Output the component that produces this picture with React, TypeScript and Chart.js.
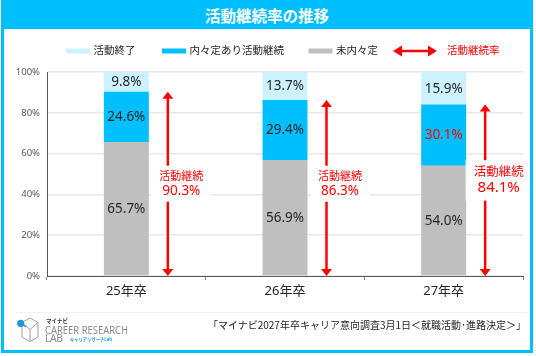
import React, { useEffect, useRef } from "react";
import { Chart, registerables } from "chart.js";

Chart.register(...registerables);

const categories = ["25年卒", "26年卒", "27年卒"];
const notYetOffer = [65.7, 56.9, 54.0];
const offerContinuing = [24.6, 29.4, 30.1];
const activityEnded = [9.8, 13.7, 15.9];
const continuationRate = [90.3, 86.3, 84.1];
const yTickStep = 20;

const seriesNames = ["未内々定", "内々定あり活動継続", "活動終了"];
const rateLabel = "活動継続";
const rateLegend = "活動継続率";
const title = "活動継続率の推移";
const sourceText = "「マイナビ2027年卒キャリア意向調査3月1日＜就職活動･進路決定＞」";

const C_LIGHT = "#CCF2FF";
const C_BLUE = "#00BFFF";
const C_GREY = "#BFBFBF";
const C_RED = "#FF0000";
const FONT = "'Noto Sans', 'Noto Sans CJK JP', sans-serif";

const TOP = 30; // canvas page offset

const legendPlugin = {
  id: "customLegend",
  afterDraw(chart: any) {
    const ctx = chart.ctx;
    const y = 51 - TOP;
    ctx.save();
    ctx.font = `10.5px ${FONT}`;
    ctx.textBaseline = "middle";
    ctx.textAlign = "left";
    const items = [
      { x: 66, color: C_LIGHT, text: seriesNames[2] },
      { x: 162, color: C_BLUE, text: seriesNames[1] },
      { x: 308.5, color: C_GREY, text: seriesNames[0] },
    ];
    for (const it of items) {
      ctx.fillStyle = it.color;
      ctx.fillRect(it.x, y - 2.5, 24, 5);
      ctx.fillStyle = "#262626";
      ctx.fillText(it.text, it.x + 27.5, y + 0.5);
    }
    const ax0 = 393, ax1 = 437;
    ctx.strokeStyle = C_RED;
    ctx.fillStyle = C_RED;
    ctx.lineWidth = 2.5;
    ctx.beginPath();
    ctx.moveTo(ax0 + 8, y);
    ctx.lineTo(ax1 - 8, y);
    ctx.stroke();
    ctx.beginPath();
    ctx.moveTo(ax0, y);
    ctx.lineTo(ax0 + 9, y - 5.5);
    ctx.lineTo(ax0 + 9, y + 5.5);
    ctx.closePath();
    ctx.fill();
    ctx.beginPath();
    ctx.moveTo(ax1, y);
    ctx.lineTo(ax1 - 9, y - 5.5);
    ctx.lineTo(ax1 - 9, y + 5.5);
    ctx.closePath();
    ctx.fill();
    ctx.fillText(rateLegend, 447, y + 0.5);
    ctx.restore();
  },
};

const barLabelPlugin = {
  id: "barLabels",
  afterDatasetsDraw(chart: any) {
    const ctx = chart.ctx;
    ctx.save();
    ctx.font = `13.5px ${FONT}`;
    ctx.textAlign = "center";
    ctx.textBaseline = "middle";
    chart.data.datasets.forEach((ds: any, di: number) => {
      const meta = chart.getDatasetMeta(di);
      meta.data.forEach((el: any, i: number) => {
        const v = ds.data[i];
        const cy = (el.y + el.base) / 2;
        ctx.fillStyle = di === 1 && i === 2 ? C_RED : "#262626";
        ctx.fillText(v.toFixed(1) + "%", el.x, cy + 0.5);
      });
    });
    ctx.restore();
  },
};

const arrowPlugin = {
  id: "rateArrows",
  afterDatasetsDraw(chart: any) {
    const ctx = chart.ctx;
    const xs = chart.scales.x;
    const ys = chart.scales.y;
    const half = (xs.getPixelForValue(1) - xs.getPixelForValue(0)) / 2;
    ctx.save();
    continuationRate.forEach((rate, i) => {
      const x = xs.getPixelForValue(i) + half * 0.523;
      const y0 = ys.getPixelForValue(0);
      const y1 = ys.getPixelForValue(rate);
      const hh = 7, hw = 5.5;
      ctx.strokeStyle = C_RED;
      ctx.fillStyle = C_RED;
      ctx.lineWidth = 2.5;
      ctx.beginPath();
      ctx.moveTo(x, y1 + hh - 1);
      ctx.lineTo(x, y0 - hh + 1);
      ctx.stroke();
      ctx.beginPath();
      ctx.moveTo(x, y1);
      ctx.lineTo(x - hw, y1 + hh);
      ctx.lineTo(x + hw, y1 + hh);
      ctx.closePath();
      ctx.fill();
      ctx.beginPath();
      ctx.moveTo(x, y0);
      ctx.lineTo(x - hw, y0 - hh);
      ctx.lineTo(x + hw, y0 - hh);
      ctx.closePath();
      ctx.fill();

      const big = i === continuationRate.length - 1;
      const f1 = big ? 12.5 : 11;
      const f2 = big ? 15 : 13.5;
      const base = ys.getPixelForValue(45);
      const l1 = base + (big ? -11.5 : -7.5);
      const l2 = base + (big ? 3.5 : 6.5);
      const tx = x + 13.5;
      ctx.font = `${f1}px ${FONT}`;
      const w1 = ctx.measureText(rateLabel).width;
      ctx.font = `${f2}px ${FONT}`;
      const rt = rate.toFixed(1) + "%";
      const w2 = ctx.measureText(rt).width;
      const bw = Math.max(w1, w2) + 16;
      const top = l1 - (big ? 12.5 : 11);
      const bot = l2 + (big ? 13 : 11);
      ctx.fillStyle = "#FFFFFF";
      ctx.fillRect(tx - bw / 2, top, bw, bot - top);
      ctx.fillStyle = C_RED;
      ctx.textAlign = "center";
      ctx.textBaseline = "middle";
      ctx.font = `${f1}px ${FONT}`;
      ctx.fillText(rateLabel, tx, l1);
      ctx.font = `${f2}px ${FONT}`;
      ctx.fillText(rt, tx, l2);
    });
    ctx.restore();
  },
};

function ChartCanvas() {
  const ref = useRef<HTMLCanvasElement | null>(null);
  useEffect(() => {
    if (!ref.current) return;
    const chart = new Chart(ref.current, {
      type: "bar",
      data: {
        labels: categories,
        datasets: [
          { label: seriesNames[0], data: notYetOffer, backgroundColor: C_GREY },
          { label: seriesNames[1], data: offerContinuing, backgroundColor: C_BLUE },
          { label: seriesNames[2], data: activityEnded, backgroundColor: C_LIGHT },
        ],
      },
      options: {
        animation: false,
        responsive: false,
        devicePixelRatio: 1,
        barPercentage: 0.2835,
        categoryPercentage: 1,
        layout: { padding: { left: 0, right: 13, top: 42, bottom: 0 } },
        plugins: { legend: { display: false }, tooltip: { enabled: false } },
        scales: {
          x: {
            stacked: true,
            afterFit: (s: any) => { s.height = 34; },
            grid: { display: true, drawOnChartArea: false, drawTicks: true, tickLength: 4, color: "#7F7F7F", offset: true },
            border: { display: true, color: "#595959", width: 1 },
            ticks: { color: "#262626", font: { size: 13, family: FONT }, padding: 3 },
          },
          y: {
            stacked: true,
            min: 0,
            max: 100,
            afterFit: (s: any) => { s.width = 47; },
            grid: { color: "#E8E8E8", lineWidth: 1.5, drawTicks: false },
            border: { display: true, color: "#595959", width: 1 },
            ticks: {
              stepSize: yTickStep,
              color: "#595959",
              padding: 7,
              font: { size: 9.5, family: FONT },
              callback: (v: any) => v + "%",
            },
          },
        },
      } as any,
      plugins: [barLabelPlugin, arrowPlugin, legendPlugin],
    });
    return () => chart.destroy();
  }, []);
  return (
    <canvas
      ref={ref}
      width={536}
      height={280}
      style={{ position: "absolute", left: 0, top: TOP, width: 536, height: 280 }}
    />
  );
}

function Logo() {
  return (
    <svg width={130} height={47} style={{ position: "absolute", left: 10, top: 305 }}>
      <g fill="none" stroke="#A0A0A0" strokeWidth={1}>
        <polygon points="20,13 28,17.5 28,32 20,36.5 12,32 12,17.5" />
        <line x1="20" y1="24.5" x2="28" y2="17.5" />
        <line x1="20" y1="24.5" x2="12" y2="17.5" />
        <line x1="20" y1="24.5" x2="20" y2="36.5" />
      </g>
      <line x1="10.7" y1="18.3" x2="16" y2="22" stroke="#1E9BD7" strokeWidth={1.2} />
      <circle cx="10.7" cy="18.3" r="3.6" fill="#1E9BD7" />
      <text x="36" y="17.5" fontSize="5.5" fontWeight="bold" fill="#333" fontFamily="'Noto Sans CJK JP', sans-serif">マイナビ</text>
      <text x="35" y="28.5" fontSize="10.5" fill="#8C8C8C" fontFamily="'Noto Sans', sans-serif" textLength="83" lengthAdjust="spacingAndGlyphs">CAREER RESEARCH</text>
      <text x="35" y="37" fontSize="10.5" fill="#8C8C8C" fontFamily="'Noto Sans', sans-serif" textLength="18" lengthAdjust="spacing">LAB</text>
      <text x="60" y="35.5" fontSize="4.6" fontWeight="bold" fill="#1E9BD7" fontFamily="'Noto Sans CJK JP', sans-serif" textLength="42" lengthAdjust="spacingAndGlyphs">キャリアリサーチLab</text>
    </svg>
  );
}

export default function App() {
  return (
    <div style={{ position: "fixed", left: 0, top: 0, width: 536, height: 356, background: "#FFFFFF", overflow: "hidden" }}>
      <ChartCanvas />
      <div style={{ position: "absolute", left: 1, top: 0, width: 532, height: 353, boxSizing: "border-box", border: `3px solid ${C_BLUE}` }} />
      <div
        style={{
          position: "absolute", left: 1, top: 0, width: 532, height: 29, background: C_BLUE,
          color: "#FFFFFF", fontFamily: "'Noto Sans CJK JP', sans-serif", fontWeight: "bold",
          fontSize: 15.5, lineHeight: "31px", textAlign: "center",
        }}
      >
        {title}
      </div>
      <div style={{ position: "absolute", left: 15, top: 312, width: 512, height: 1, background: "#F2F2F2" }} />
      <Logo />
      <div
        style={{
          position: "absolute", right: 10, top: 318, whiteSpace: "nowrap",
          fontFamily: "'Noto Sans CJK JP', sans-serif", fontSize: 10, color: "#262626", lineHeight: "14px",
        }}
      >
        {sourceText}
      </div>
    </div>
  );
}
